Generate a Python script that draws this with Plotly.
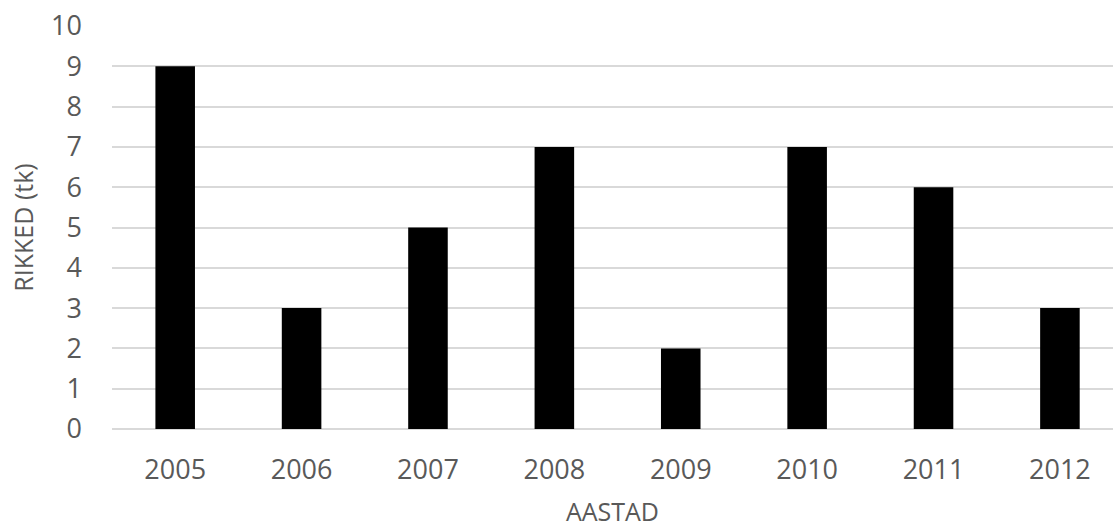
import plotly.graph_objects as go

years = ["2005", "2006", "2007", "2008", "2009", "2010", "2011", "2012"]
counts = [9, 3, 5, 7, 2, 7, 6, 3]
y_ticks = [0, 1, 2, 3, 4, 5, 6, 7, 8, 9, 10]

FONT = "Open Sans"
GREY = "#595959"

fig = go.Figure(
    go.Bar(
        x=years,
        y=counts,
        marker=dict(color="#000000", line=dict(width=0)),
        width=0.313,
    )
)

fig.update_layout(
    width=1113,
    height=528,
    margin=dict(l=112, r=0, t=26, b=99),
    paper_bgcolor="white",
    plot_bgcolor="white",
    showlegend=False,
    font=dict(family=FONT, size=27, color=GREY),
)

fig.update_xaxes(
    type="category",
    range=[-0.5, 7.42],
    showgrid=False,
    zeroline=False,
    showline=False,
    ticks="",
    ticklabelstandoff=22,
    tickfont=dict(family=FONT, size=27, color=GREY),
    title=dict(text="AASTAD", font=dict(family=FONT, size=25, color=GREY), standoff=18),
)

fig.update_yaxes(
    range=[0, 10],
    tickvals=y_ticks,
    showgrid=True,
    gridcolor="#d9d9d9",
    gridwidth=1.5,
    zeroline=True,
    zerolinecolor="#d9d9d9",
    zerolinewidth=1.5,
    showline=False,
    ticks="",
    ticklabelstandoff=29,
    tickfont=dict(family=FONT, size=27, color=GREY),
    title=dict(text="RIKKED (tk)", font=dict(family=FONT, size=25, color=GREY), standoff=10),
)

fig.write_html("out.html")
